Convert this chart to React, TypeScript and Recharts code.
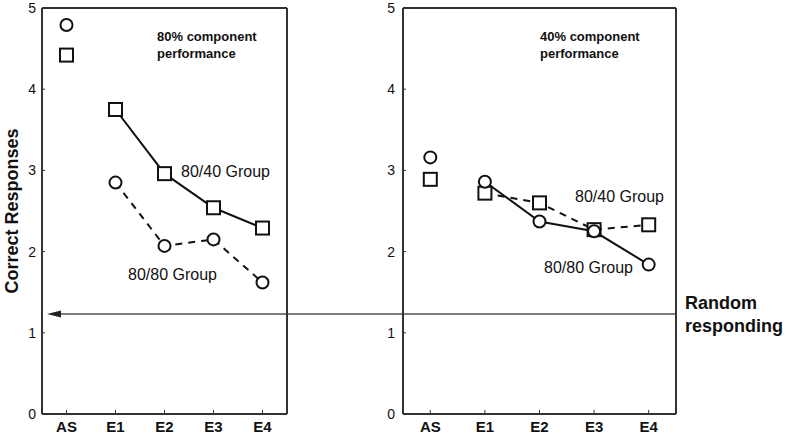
import React from 'react';
import { LineChart, Line, XAxis, YAxis, ReferenceLine } from 'recharts';

const categories = ['AS', 'E1', 'E2', 'E3', 'E4'];
const yTicks = [0, 1, 2, 3, 4, 5];
const frameTicks = [1, 2, 3, 4, 5, 6, 7, 8];

// 80% component performance (left panel), AS first then E1..E4
const left8040 = [4.42, 3.75, 2.96, 2.54, 2.29];
const left8080 = [4.79, 2.85, 2.07, 2.15, 1.62];
// 40% component performance (right panel)
const right8040 = [2.89, 2.72, 2.6, 2.27, 2.33];
const right8080 = [3.16, 2.86, 2.37, 2.25, 1.84];

const randomResponding = 1.23;

const FONT = '"Liberation Sans", Arial, sans-serif';
const INK = '#111';
const FRAME = '#333';

// AS is plotted on its own, not joined to the E1..E4 line
const buildRows = (squares: number[], circles: number[]) =>
  categories.map((cat, i) => ({
    cat,
    sqBase: i === 0 ? squares[i] : null,
    sq: i === 0 ? null : squares[i],
    ciBase: i === 0 ? circles[i] : null,
    ci: i === 0 ? null : circles[i],
  }));

const leftRows = buildRows(left8040, left8080);
const rightRows = buildRows(right8040, right8080);

const SquareDot = (p: any) => {
  if (p.cx == null || p.cy == null) return <g key={`sq-${p.index}`} />;
  return (
    <rect
      key={`sq-${p.index}`}
      x={p.cx - 6.5}
      y={p.cy - 6.5}
      width={13}
      height={13}
      fill="#fff"
      stroke={INK}
      strokeWidth={2}
    />
  );
};

const CircleDot = (p: any) => {
  if (p.cx == null || p.cy == null) return <g key={`ci-${p.index}`} />;
  return <circle key={`ci-${p.index}`} cx={p.cx} cy={p.cy} r={6} fill="#fff" stroke={INK} strokeWidth={2} />;
};

interface PanelProps {
  rows: any[];
  width: number;
  axisWidth: number;
  marginRight: number;
  pad: number;
  tickGap: number;
  solid: 'sq' | 'ci';
  side: 'left' | 'right';
}

function Panel({ rows, width, axisWidth, marginRight, pad, tickGap, solid, side }: PanelProps) {
  const dashed = solid === 'sq' ? 'ci' : 'sq';
  const lineFor = (key: 'sq' | 'ci') => (
    <Line
      key={key}
      dataKey={key}
      stroke={INK}
      strokeWidth={2}
      strokeDasharray={key === dashed ? '7 6' : undefined}
      dot={key === 'sq' ? SquareDot : CircleDot}
      activeDot={false}
      isAnimationActive={false}
    />
  );

  return (
    <LineChart
      width={width}
      height={435}
      data={rows}
      margin={{ top: 7, right: marginRight - 1, bottom: 0, left: 0 }}
      style={{ fontFamily: FONT }}
    >
      <XAxis
        dataKey="cat"
        padding={{ left: pad, right: pad }}
        height={21}
        tickSize={-4}
        tickMargin={11}
        axisLine={{ stroke: FRAME, strokeWidth: 2 }}
        tickLine={{ stroke: FRAME }}
        tick={{ fontSize: 15, fontWeight: 'bold', fill: INK }}
        interval={0}
      />
      <XAxis
        xAxisId="top"
        dataKey="cat"
        orientation="top"
        padding={{ left: pad, right: pad }}
        height={1}
        tickSize={-4}
        tick={false}
        axisLine={{ stroke: FRAME, strokeWidth: 2 }}
        tickLine={{ stroke: FRAME }}
        interval={0}
      />
      <YAxis
        type="number"
        domain={[0, 5]}
        ticks={yTicks}
        width={axisWidth}
        tickSize={-3}
        tickMargin={tickGap}
        axisLine={{ stroke: FRAME, strokeWidth: 2 }}
        tickLine={{ stroke: FRAME }}
        tick={{ fontSize: 14, fill: INK }}
        label={
          side === 'left'
            ? {
                value: 'Correct Responses',
                angle: -90,
                position: 'insideLeft',
                offset: 12,
                style: { textAnchor: 'middle', fontSize: 18, fontWeight: 'bold', fill: INK },
              }
            : undefined
        }
      />
      <YAxis
        yAxisId="frame"
        orientation="right"
        type="number"
        domain={[0, 9]}
        ticks={frameTicks}
        width={1}
        tickSize={-3}
        tick={false}
        axisLine={{ stroke: FRAME, strokeWidth: 2 }}
        tickLine={{ stroke: FRAME }}
      />
      {/* invisible series that ties the top and right frame axes to the chart */}
      <Line
        xAxisId="top"
        yAxisId="frame"
        dataKey="sqBase"
        stroke="none"
        dot={false}
        activeDot={false}
        isAnimationActive={false}
      />
      <ReferenceLine
        y={randomResponding}
        ifOverflow="visible"
        shape={(p: any) =>
          side === 'left' ? (
            <g>
              <line x1={p.x1 + 16} y1={p.y1} x2={p.x2 + marginRight} y2={p.y2} stroke="#555" strokeWidth={1.5} />
              <polygon
                points={`${p.x1 + 5},${p.y1} ${p.x1 + 19},${p.y1 - 3.5} ${p.x1 + 19},${p.y1 + 3.5}`}
                fill="#222"
              />
            </g>
          ) : (
            <line x1={p.x1 - axisWidth} y1={p.y1} x2={p.x2} y2={p.y2} stroke="#555" strokeWidth={1.5} />
          )
        }
      />
      <Line dataKey="sqBase" stroke="none" dot={SquareDot} activeDot={false} isAnimationActive={false} />
      <Line dataKey="ciBase" stroke="none" dot={CircleDot} activeDot={false} isAnimationActive={false} />
      {lineFor('sq')}
      {lineFor('ci')}
    </LineChart>
  );
}

const note: React.CSSProperties = {
  position: 'absolute',
  fontFamily: FONT,
  color: INK,
  whiteSpace: 'nowrap',
};

export default function App() {
  return (
    <div style={{ position: 'absolute', left: 0, top: 0, width: 786, height: 435, background: '#fff' }}>
      <div style={{ position: 'absolute', left: 0, top: 0 }}>
        <Panel rows={leftRows} width={345} axisWidth={42} marginRight={58} pad={24.5} tickGap={9} solid="sq" side="left" />
      </div>
      <div style={{ position: 'absolute', left: 345, top: 0 }}>
        <Panel rows={rightRows} width={441} axisWidth={58} marginRight={110} pad={27.3} tickGap={11} solid="ci" side="right" />
      </div>

      <div style={{ ...note, left: 157, top: 28, fontSize: 13, fontWeight: 'bold', lineHeight: '17px' }}>
        80% component
        <br />
        performance
      </div>
      <div style={{ ...note, left: 540, top: 28, fontSize: 13, fontWeight: 'bold', lineHeight: '17px' }}>
        40% component
        <br />
        performance
      </div>
      <div style={{ ...note, left: 181, top: 163, fontSize: 16, lineHeight: '18px' }}>80/40 Group</div>
      <div style={{ ...note, left: 128, top: 266, fontSize: 16, lineHeight: '18px' }}>80/80 Group</div>
      <div style={{ ...note, left: 575, top: 188, fontSize: 16, lineHeight: '18px' }}>80/40 Group</div>
      <div style={{ ...note, left: 544, top: 259, fontSize: 16, lineHeight: '18px' }}>80/80 Group</div>
      <div style={{ ...note, left: 685, top: 292, fontSize: 18, fontWeight: 'bold', lineHeight: '23px' }}>
        Random
        <br />
        responding
      </div>
    </div>
  );
}
